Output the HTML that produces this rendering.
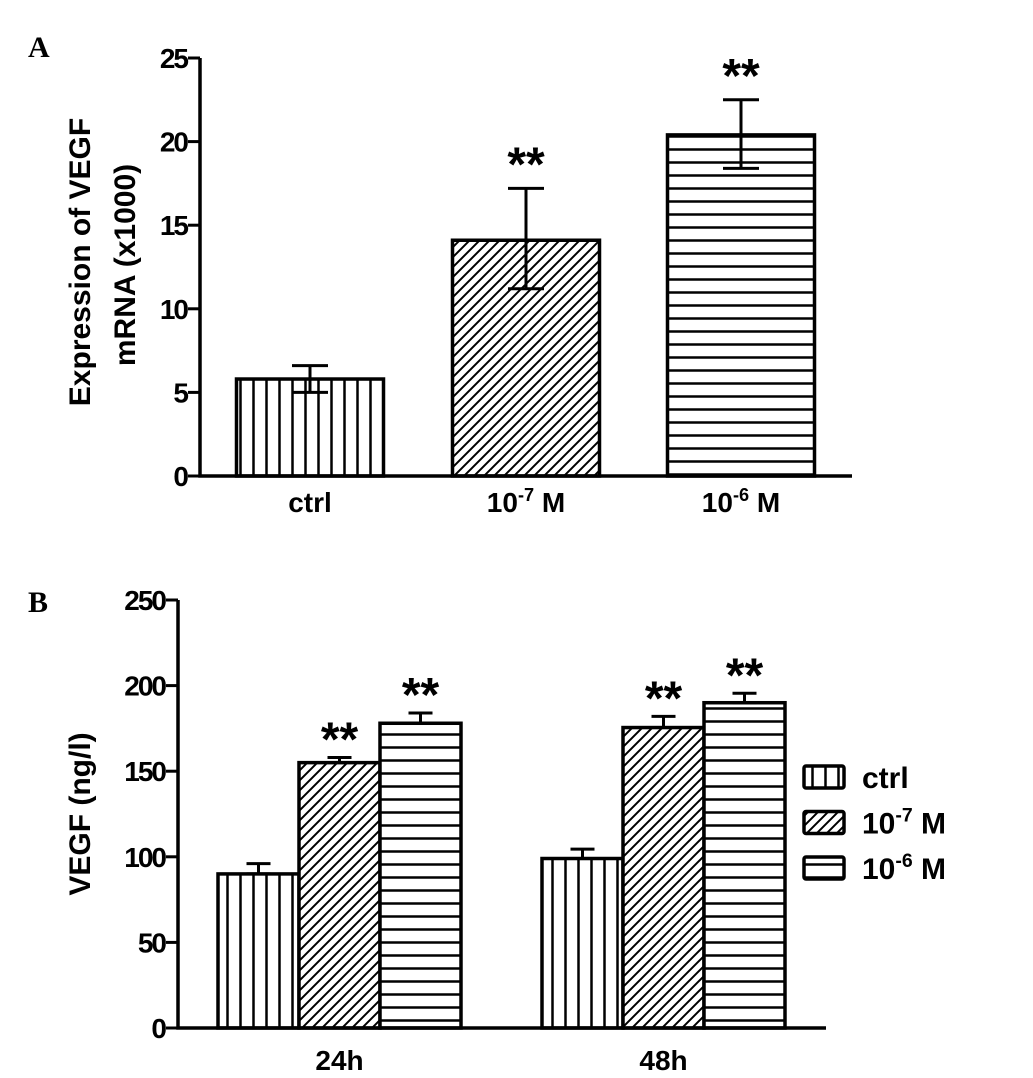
<!DOCTYPE html>
<html><head><meta charset="utf-8"><style>
html,body{margin:0;padding:0;background:#fff;}
svg{display:block;font-family:"Liberation Sans",Arial,sans-serif;}
</style></head><body>
<svg id="chart" width="1033" height="1078" viewBox="0 0 1033 1078">
<defs>
<pattern id="pv" patternUnits="userSpaceOnUse" width="13" height="10"><line x1="6.5" y1="0" x2="6.5" y2="10" stroke="#000" stroke-width="2.5"/></pattern>
<pattern id="pd" patternUnits="userSpaceOnUse" width="10" height="10"><path d="M-2,12 L12,-2 M-2,2 L2,-2 M8,12 L12,8" stroke="#000" stroke-width="2"/></pattern>
<pattern id="ph" patternUnits="userSpaceOnUse" width="10" height="13"><line x1="0" y1="6.5" x2="10" y2="6.5" stroke="#000" stroke-width="2.5"/></pattern>
</defs>
<text x="28" y="57" font-family="Liberation Serif,serif" font-weight="bold" font-size="30">A</text>
<text x="28" y="612" font-family="Liberation Serif,serif" font-weight="bold" font-size="30">B</text>
<g id="pa"></g>
<g id="pb"></g>
</svg>
<script>
// Panel A data
const aCategories = ["ctrl", "10-7 M", "10-6 M"];
const aValues = [5.8, 14.1, 20.4];
const aErrLow = [5.0, 11.2, 18.4];
const aErrHigh = [6.6, 17.2, 22.5];
const aTicks = [0, 5, 10, 15, 20, 25];
// Panel B data
const bGroups = ["24h", "48h"];
const bSeries = ["ctrl", "10-7 M", "10-6 M"];
const bCtrl = [90, 99];
const bM7 = [155, 175.5];
const bM6 = [178, 190];
const bCtrlErr = [96, 104.5];
const bM7Err = [158, 182];
const bM6Err = [184, 195.5];
const bTicks = [0, 50, 100, 150, 200, 250];

const NS = "http://www.w3.org/2000/svg";
function mk(tag, attrs, parent, txt){
  const e = document.createElementNS(NS, tag);
  for (const k in attrs) e.setAttribute(k, attrs[k]);
  if (txt !== undefined) e.textContent = txt;
  parent.appendChild(e); return e;
}
const fills = ["url(#pv)", "url(#pd)", "url(#ph)"];
function label(parent, x, y, name, size, anchor){
  const t = mk("text", {x:x, y:y, "font-size":size, "font-weight":"bold", "text-anchor":anchor||"middle"}, parent);
  
  
  const m = name.match(/^10-(\d) M$/);
  if (m){
    mk("tspan", {}, t, "10");
    mk("tspan", {dy:-size*0.4, "font-size":size*0.65}, t, "-" + m[1]);
    mk("tspan", {dy:size*0.4}, t, " M");
  } else t.textContent = name;
  return t;
}
function errBar(g, cx, yTop, yBot, hw){
  const e = mk("path", {d:`M${cx},${yBot}V${yTop}M${cx-hw},${yTop}H${cx+hw}M${cx-hw},${yBot}H${cx+hw}`, stroke:"#000", "stroke-width":3, fill:"none"}, g);
  
  
}

// ---- Panel A ----
(function(){
  const g = document.getElementById("pa");
  const x0 = 200, xEnd = 852, y0 = 476, yTop = 58, vmax = 25;
  const y = v => y0 - (v / vmax) * (y0 - yTop);
  const barW = 147, centers = [310, 526, 741];
  aValues.forEach((v, i) => {
    const r = mk("rect", {x:centers[i]-barW/2, y:y(v), width:barW, height:y0-y(v), fill:"#fff", stroke:"none"}, g);
    
    
    mk("rect", {x:centers[i]-barW/2, y:y(v), width:barW, height:y0-y(v), fill:fills[i], stroke:"#000", "stroke-width":3.5}, g);
    errBar(g, centers[i], y(aErrHigh[i]), y(aErrLow[i]), 18);
    if (i > 0){
      const s = mk("text", {x:centers[i], y:y(aErrHigh[i]) - 8, "font-size":48, "font-weight":"bold", "text-anchor":"middle"}, g, "**");
      
      
    }
    label(g, centers[i], 512, aCategories[i], 28);
  });
  const ax = mk("path", {d:`M${x0},${yTop}V${y0}H${xEnd}`, stroke:"#000", "stroke-width":3.5, fill:"none"}, g);
  
  
  aTicks.forEach(t => {
    mk("line", {x1:x0-12, x2:x0, y1:y(t), y2:y(t), stroke:"#000", "stroke-width":3}, g);
    const tl = mk("text", {x:x0-13, y:y(t)+10, "font-size":28, "font-weight":"bold", "text-anchor":"end", "letter-spacing":"-2"}, g, t);
    
    
  });
  const yt = mk("text", {transform:"translate(90,262) rotate(-90)", "font-size":30, "font-weight":"bold", "text-anchor":"middle"}, g, "Expression of VEGF");
  
  
  const yt2 = mk("text", {transform:"translate(135,265) rotate(-90)", "font-size":30, "font-weight":"bold", "text-anchor":"middle"}, g, "mRNA (x1000)");
  
  
})();

// ---- Panel B ----
(function(){
  const g = document.getElementById("pb");
  const x0 = 178, xEnd = 826, y0 = 1028, yTop = 600, vmax = 250;
  const y = v => y0 - (v / vmax) * (y0 - yTop);
  const barW = 81, groupStart = [218, 542];
  const vals = [bCtrl, bM7, bM6], errs = [bCtrlErr, bM7Err, bM6Err];
  bGroups.forEach((grp, gi) => {
    vals.forEach((arr, si) => {
      const bx = groupStart[gi] + si * barW, v = arr[gi];
      const r = mk("rect", {x:bx, y:y(v), width:barW, height:y0-y(v), fill:"#fff"}, g);
      
      
      mk("rect", {x:bx, y:y(v), width:barW, height:y0-y(v), fill:fills[si], stroke:"#000", "stroke-width":3.5}, g);
      errBar(g, bx + barW/2, y(errs[si][gi]), y(v), 12);
      if (si > 0){
        const s = mk("text", {x:bx + barW/2, y:y(errs[si][gi]) - 2, "font-size":48, "font-weight":"bold", "text-anchor":"middle"}, g, "**");
        
        
      }
    });
    const xl = mk("text", {x:groupStart[gi] + 1.5*barW, y:1070, "font-size":28, "font-weight":"bold", "text-anchor":"middle"}, g, grp);
    
    
  });
  const ax = mk("path", {d:`M${x0},${yTop}V${y0}H${xEnd}`, stroke:"#000", "stroke-width":3.5, fill:"none"}, g);
  
  
  bTicks.forEach(t => {
    mk("line", {x1:x0-12, x2:x0, y1:y(t), y2:y(t), stroke:"#000", "stroke-width":3}, g);
    const tl = mk("text", {x:x0-13, y:y(t)+10, "font-size":28, "font-weight":"bold", "text-anchor":"end", "letter-spacing":"-2"}, g, t);
    
    
  });
  const yt = mk("text", {transform:"translate(90,814) rotate(-90)", "font-size":30, "font-weight":"bold", "text-anchor":"middle"}, g, "VEGF (ng/l)");
  
  
  // legend
  const lg = mk("g", {}, g);
  
  
  bSeries.forEach((s, i) => {
    const ly = 766 + i * 45.5;
    const b = mk("rect", {x:804, y:ly, width:40, height:22, fill:fills[i], stroke:"#000", "stroke-width":3.5, rx:2}, lg);
    
    
    label(lg, 862, ly + 22, s, 30, "start");
  });
})();
</script>
</body></html>
